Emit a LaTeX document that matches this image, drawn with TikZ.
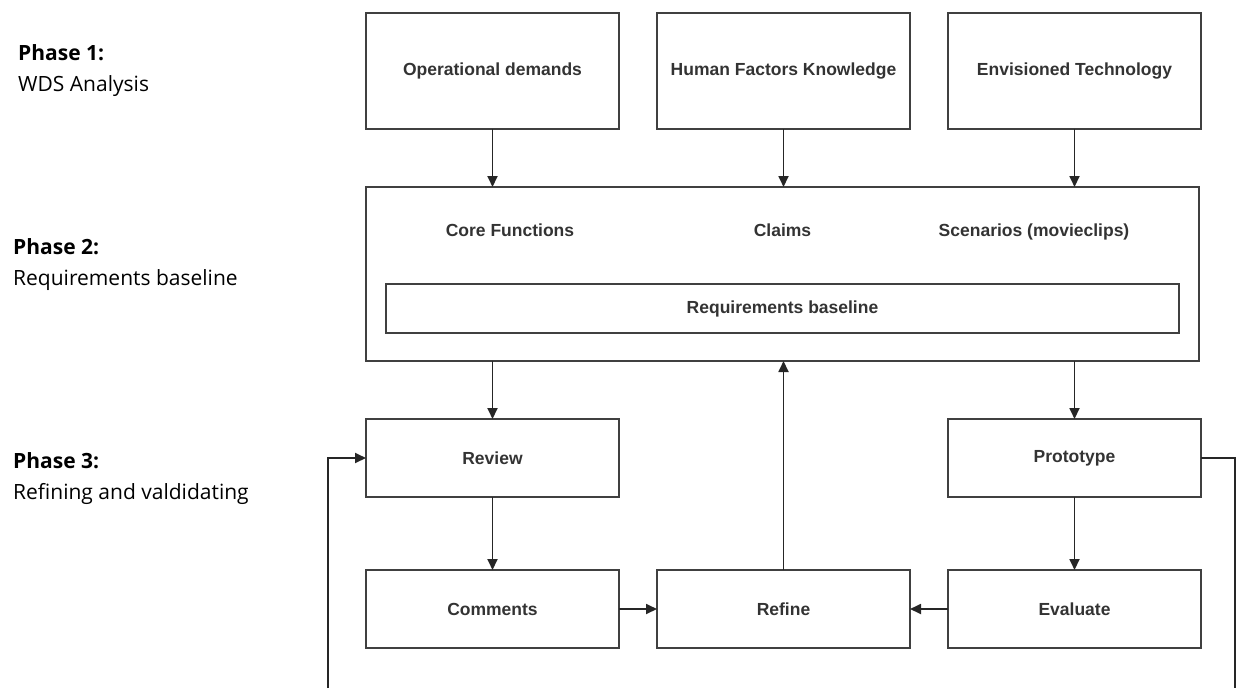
\documentclass[tikz,border=0pt]{standalone}
\usepackage{fontspec}
\setmainfont{Liberation Sans}
\newfontfamily\phasefont{Open Sans}
\usetikzlibrary{positioning,arrows.meta}

\begin{document}
\begin{tikzpicture}[
    x=1pt, y=1pt,
    node distance=58pt and 38pt,
    block/.style={rectangle, draw=black!75, line width=2pt, minimum width=253pt,
                  minimum height=78pt, inner sep=0pt, outer sep=0pt,
                  font=\fontsize{17.5}{21}\selectfont\bfseries, text=black!80},
    label/.style={anchor=base, font=\fontsize{17.5}{21}\selectfont\bfseries, text=black!80},
    phase/.style={anchor=west, align=left, inner sep=0pt,
                  font=\phasefont\fontsize{21}{31}\selectfont},
    arrow/.style={-{Triangle[length=11pt, width=10pt]}, line width=1.8pt, color=black!85},
    line/.style={line width=1.8pt, color=black!85}
]
    \useasboundingbox (0,0) rectangle (1236,-688);

    % Phase 1: inputs
    \node[block, minimum height=116pt] (ops) at (492.5,-71) {Operational demands};
    \node[block, minimum height=116pt, right=of ops] (hfk) {Human Factors Knowledge};
    \node[block, minimum height=116pt, right=of hfk] (tech) {Envisioned Technology};

    % Phase 2: baseline
    \node[block, minimum width=833pt, minimum height=174pt] (base) at (782.5,-274) {};
    \node[label] (core) at (510,-236) {Core Functions};
    \node[label] (claims) at (782.5,-236) {Claims};
    \node[label] (scen) at (1034,-236) {Scenarios (movieclips)};
    \node[block, minimum width=793pt, minimum height=49pt] (reqb) at (782.5,-308.5) {Requirements baseline};

    % Phase 3: refining loop
    \node[block] (review) at (492.5,-458) {Review};
    \node[block, below=73pt of review] (comments) {Comments};
    \node[block, right=of comments] (refine) {Refine};
    \node[block, right=of refine] (evaluate) {Evaluate};
    \node[block, above=73pt of evaluate] (proto) {Prototype};

    % Phase labels
    \node[phase] (p1) at (18,-71) {\textbf{Phase 1:}\\WDS Analysis};
    \node[phase] (p2) at (13,-265) {\textbf{Phase 2:}\\Requirements baseline};
    \node[phase] (p3) at (13,-479) {\textbf{Phase 3:}\\Refining and valdidating};

    % Connectors
    \draw[arrow] (ops.south) -- (ops.south |- base.north);
    \draw[arrow] (hfk.south) -- (hfk.south |- base.north);
    \draw[arrow] (tech.south) -- (tech.south |- base.north);
    \draw[arrow] (review.north |- base.south) -- (review.north);
    \draw[arrow] (proto.north |- base.south) -- (proto.north);
    \draw[arrow] (review) -- (comments);
    \draw[arrow] (proto) -- (evaluate);
    \draw[arrow] (comments) -- (refine);
    \draw[arrow] (evaluate) -- (refine);
    \draw[arrow] (refine.north) -- (refine.north |- base.south);

    % Feedback lines leaving the picture
    \coordinate (fbl) at (328,-688);
    \coordinate (fbr) at (1235,-688);
    \draw[arrow] (fbl) |- (review.west);
    \draw[line] (proto.east) -| (fbr);
\end{tikzpicture}
\end{document}
